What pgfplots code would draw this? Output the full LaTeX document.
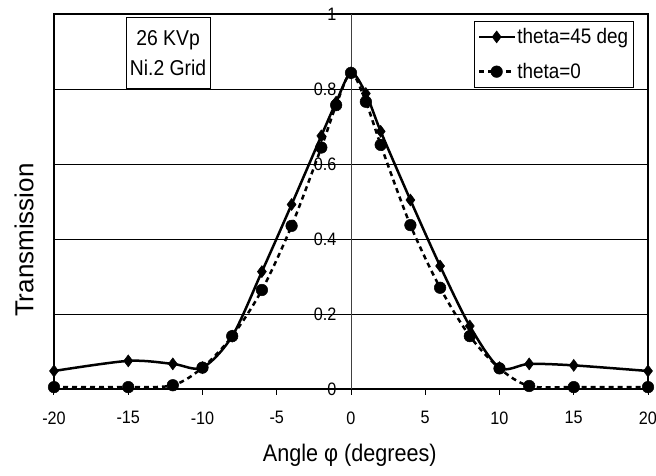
\documentclass[border=0pt]{standalone}
\usepackage{fontspec}
\setmainfont{Liberation Sans}[FakeStretch=0.9]
\newfontfamily\plainsans{Liberation Sans}
\usepackage{pgfplots}
\pgfplotsset{compat=1.18}

\begin{document}
\begin{tikzpicture}
\useasboundingbox (-54pt,-87pt) rectangle (602pt,389pt);
\begin{axis}[
  scale only axis, width=594pt, height=375pt,
  xmin=-20, xmax=20, ymin=0, ymax=1,
  clip=false,
  xtick={-20,-15,-10,-5,0,5,10,15,20},
  ytick={0,0.2,0.4,0.6,0.8,1},
  /pgf/number format/assume math mode=true,
  tick label style={font=\fontsize{18}{19}\selectfont},
  xtick pos=left, ytick pos=left,
  tick align=outside, major tick length=6pt,
  xtick style={black, line width=1pt},
  ytick style={draw=none},
  yticklabel style={xshift=292pt},
  xticklabel style={yshift=-13pt},
  ymajorgrids, grid style={black, line width=0.9pt},
  axis line style={black, line width=1.6pt},
  xlabel={Angle φ (degrees)},
  xlabel style={at={(rel axis cs:0.498,0)}, anchor=center, yshift=-66pt, font=\fontsize{24}{25}\selectfont},
  ylabel={Transmission},
  ylabel style={at={(rel axis cs:0,0.397)}, anchor=center, yshift=30pt, font=\plainsans\fontsize{26}{28}\selectfont},
  legend cell align=left,
  legend style={at={(rel axis cs:0.976,0.981)}, anchor=north east,
    font=\fontsize{21}{23}\selectfont, draw=black, line width=0.9pt, row sep=14pt,
    inner ysep=5pt},
  legend image code/.code={\draw[mark repeat=2,mark phase=2] plot coordinates {(0pt,0pt)(17.5pt,0pt)(35pt,0pt)};},
]
\draw[line width=0.8pt, black!75] (axis cs:0,0) -- (axis cs:0,1);

\addplot[black, line width=2.5pt, smooth, tension=0.5,
  mark=diamond*, mark size=6pt, mark options={solid, line width=0.5pt}]
  coordinates {(-20,0.048)(-15,0.075)(-12,0.067)(-10,0.057)(-8,0.141)(-6,0.313)(-4,0.492)(-2,0.675)(-1,0.765)(0,0.843)(1,0.788)(2,0.687)(4,0.504)(6,0.328)(8,0.168)(10,0.057)(12,0.067)(15,0.063)(20,0.048)};
\addlegendentry{theta=45 deg}

\addplot[black, line width=2.5pt, dash pattern=on 5pt off 4pt, smooth, tension=0.5,
  mark=*, mark size=5.8pt, mark options={solid, line width=0.5pt}]
  coordinates {(-20,0.005)(-15,0.005)(-12,0.01)(-10,0.057)(-8,0.141)(-6,0.264)(-4,0.435)(-2,0.644)(-1,0.757)(0,0.843)(1,0.766)(2,0.651)(4,0.437)(6,0.27)(8,0.141)(10,0.055)(12,0.008)(15,0.005)(20,0.005)};
\addlegendentry{theta=0}

\node[draw=black, line width=0.9pt, fill=white, align=center, minimum width=84pt, minimum height=71pt,
  inner sep=0pt, font=\fontsize{21.5}{30}\selectfont] at (rel axis cs:0.192,0.895) {26 KVp\\Ni.2 Grid};
\end{axis}
\end{tikzpicture}
\end{document}
